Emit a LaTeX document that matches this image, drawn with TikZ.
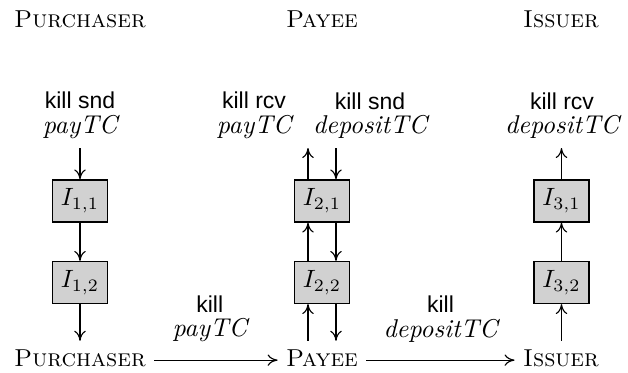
\documentclass[tikz,border=0pt]{standalone}
\usepackage{fontspec}
\newfontfamily\lblsans{Liberation Sans}
\usetikzlibrary{arrows.meta}
\newcommand\sfk[1]{{\lblsans\fontsize{9.2}{9.8}\selectfont #1}}
\newcommand\itk[1]{{\fontsize{10.3}{9.8}\selectfont\itshape #1}}
\begin{document}
\begin{tikzpicture}[x=0.4pt,y=-0.4pt,
  arr/.style={-{Computer Modern Rightarrow[length=4pt,width=4.6pt]}, line width=0.45pt},
  ibox/.style={draw, line width=0.45pt, fill=black!18, minimum width=22pt, minimum height=16.8pt, inner sep=0pt, font=\fontsize{10}{12}\selectfont},
  party/.style={inner sep=3.2pt, text depth=2pt, anchor=base, font=\fontsize{9.8}{12}\selectfont\scshape},
  klbl/.style={align=center, inner sep=0pt, anchor=south, font=\fontsize{10}{9.8}\selectfont},
]
\useasboundingbox (0,0) rectangle (628,373);
% headers
\node[party] (hP) at (80,27) {Purchaser};
\node[party] (hY) at (322,27) {Payee};
\node[party] (hI) at (561,27) {Issuer};
% top labels
\node[klbl] (tP) at (80,139) {\sfk{kill snd}\\\itk{payTC}};
\node[klbl] (tY1) at (254,139) {\sfk{kill rcv}\\\itk{payTC}};
\node[klbl] (tY2) at (370,139) {\sfk{kill snd}\\\itk{depositTC}};
\node[klbl] (tI) at (562,139) {\sfk{kill rcv}\\\itk{depositTC}};
% boxes
\node[ibox] (b11) at (80,201) {$I_{1,1}$};
\node[ibox] (b12) at (80,282.5) {$I_{1,2}$};
\node[ibox] (b21) at (322,201) {$I_{2,1}$};
\node[ibox] (b22) at (322,282.5) {$I_{2,2}$};
\node[ibox] (b31) at (561.5,201) {$I_{3,1}$};
\node[ibox] (b32) at (561.5,282.5) {$I_{3,2}$};
% bottom parties
\node[party] (bP) at (80,366) {Purchaser};
\node[party] (bY) at (322,366) {Payee};
\node[party] (bI) at (561,366) {Issuer};
% helper coordinates
\coordinate (top) at (0,148);
\coordinate (yl) at (308,0);
\coordinate (yr) at (336,0);
% purchaser column
\draw[arr] (top -| b11) -- (b11.north);
\draw[arr] (b11.south) -- (b12.north);
\draw[arr] (b12.south) -- (bP.north);
% payee column
\draw[arr] (bY.north -| yl) -- (b22.south -| yl);
\draw[arr] (b22.north -| yl) -- (b21.south -| yl);
\draw[arr] (b21.north -| yl) -- (top -| yl);
\draw[arr] (top -| yr) -- (b21.north -| yr);
\draw[arr] (b21.south -| yr) -- (b22.north -| yr);
\draw[arr] (b22.south -| yr) -- (bY.north -| yr);
% issuer column
\draw[arr] (bI.north -| b32) -- (b32.south);
\draw[arr] (b32.north) -- (b31.south);
\draw[arr] (b31.north) -- (top -| b31);
% horizontal
\draw[arr] (bP.east) -- node[klbl, pos=0.45, above=7pt, anchor=south] (m1) {\sfk{kill}\\\itk{payTC}} (bY.west);
\draw[arr] (bY.east) -- node[klbl, midway, above=7pt, anchor=south] (m2) {\sfk{kill}\\\itk{depositTC}} (bI.west);
\end{tikzpicture}
\end{document}
